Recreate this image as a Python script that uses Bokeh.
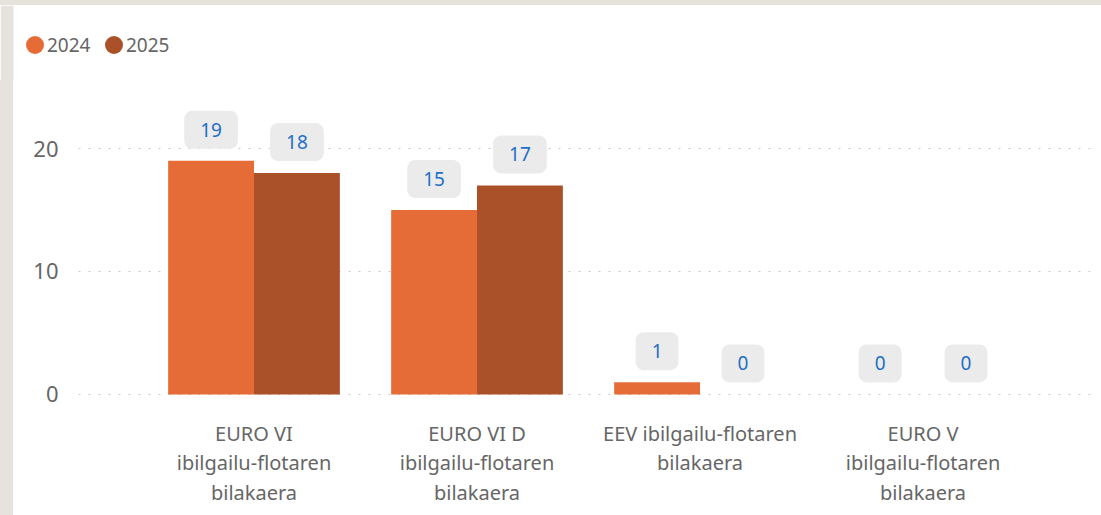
from bokeh.plotting import figure
from bokeh.models import (ColumnDataSource, Range1d, FixedTicker, Legend, LegendItem, Spacer,
                          BoxAnnotation)
from bokeh.layouts import row, column
from bokeh.core.properties import value
from bokeh.embed import file_html
from bokeh.resources import INLINE

# ---- data ----
categories = ["EURO VI\nibilgailu-flotaren\nbilakaera",
              "EURO VI D\nibilgailu-flotaren\nbilakaera",
              "EEV ibilgailu-flotaren\nbilakaera",
              "EURO V\nibilgailu-flotaren\nbilakaera"]
series_names = ["2024", "2025"]
values_2024 = [19, 15, 1, 0]
values_2025 = [18, 17, 0, 0]
y_ticks = [0, 10, 20]

colors = ["#E66C37", "#AB5129"]
FONT = "Noto Sans"
GRAY = "#666666"
BEIGE = "#E6E2DC"

# ---- main chart ----
p = figure(width=1088, height=435, output_backend="svg", toolbar_location=None,
           x_range=Range1d(-0.787, 3.751), y_range=Range1d(-0.33, 25.53),
           min_border_left=65, min_border_right=11, min_border_top=0, min_border_bottom=117)
p.outline_line_color = None
p.background_fill_color = "white"
p.border_fill_color = "white"

bw = 0.385
idx = list(range(len(categories)))
for k, (vals, col) in enumerate(zip([values_2024, values_2025], colors)):
    off = (k - 0.5) * bw
    src = ColumnDataSource(dict(x=[i + off for i in idx], top=vals,
                                lbl=[str(v) for v in vals]))
    p.vbar(x="x", top="top", bottom=0, width=bw, source=src, fill_color=col, line_color=None)
    p.text(x="x", y="top", text="lbl", source=src, text_align="center", text_baseline="bottom",
           y_offset=-12, text_color="#1F6FC6", text_font=value(FONT), text_font_size="19px",
           background_fill_color="#EBEBEB", border_radius=8, padding=(16, 12))

# axes
p.xaxis.ticker = FixedTicker(ticks=idx)
p.xaxis.major_label_overrides = {i: c for i, c in zip(idx, categories)}
p.xaxis.axis_line_color = None
p.xaxis.major_tick_line_color = None
p.xaxis.minor_tick_line_color = None
p.xaxis.major_tick_in = 0
p.xaxis.major_tick_out = 0
p.xaxis.major_label_text_font = FONT
p.xaxis.major_label_text_font_size = "20px"
p.xaxis.major_label_text_color = GRAY
p.xaxis.major_label_text_line_height = 1.1
p.xaxis.major_label_standoff = 21
p.xgrid.grid_line_color = None

p.yaxis.ticker = FixedTicker(ticks=y_ticks)
p.yaxis.axis_line_color = None
p.yaxis.major_tick_line_color = None
p.yaxis.minor_tick_line_color = None
p.yaxis.major_tick_in = 0
p.yaxis.major_tick_out = 0
p.yaxis.major_label_text_font = FONT
p.yaxis.major_label_text_font_size = "22px"
p.yaxis.major_label_text_color = GRAY
p.yaxis.major_label_standoff = 20
p.ygrid.ticker = FixedTicker(ticks=y_ticks)
p.ygrid.grid_line_color = "#C8C8C8"
p.ygrid.grid_line_dash = "2 8"
p.ygrid.grid_line_width = 1

# ---- legend strip (separate figure so the legend can sit left of the plot area) ----
lg = figure(width=1101, height=75, output_backend="svg", toolbar_location=None,
            x_axis_type=None, y_axis_type=None,
            min_border_left=0, min_border_right=0, min_border_top=0, min_border_bottom=0,
            x_range=Range1d(0, 1), y_range=Range1d(0, 1))
lg.outline_line_color = None
lg.grid.grid_line_color = None
lg.add_layout(BoxAnnotation(left=0, right=13, top=0, bottom=75, left_units="screen",
                            right_units="screen", top_units="screen", bottom_units="screen",
                            fill_color=BEIGE, fill_alpha=1, line_color=None))
# legend swatches: points placed outside the visible range so only the legend shows them
lg_renderers = [lg.scatter(x=[-10], y=[-10], marker="circle", fill_color=c, line_color=None)
                for c in colors]
common = dict(orientation="horizontal", glyph_height=45, spacing=0, padding=0, margin=0,
              border_line_alpha=0, background_fill_alpha=0, label_text_font=FONT,
              label_text_font_size="19px", label_text_color=GRAY)
for n, r, sw_x, lb_x in zip(series_names, lg_renderers, [12, 91], [47, 126]):
    # swatch (circle) part
    lg.add_layout(Legend(items=[LegendItem(label=" ", renderers=[r])], location=(sw_x, 13),
                         glyph_width=45, label_standoff=0, **common))
    # label part
    lg.add_layout(Legend(items=[LegendItem(label=n, renderers=[r])], location=(lb_x, 13),
                         glyph_width=0, label_standoff=0, **common))

# beige page edges (left and top strips)
top_strip = Spacer(width=1101, height=5, styles={"background-color": BEIGE})
left_bottom = Spacer(width=13, height=435, styles={"background-color": BEIGE})
page = column(top_strip, lg, row(left_bottom, p, spacing=0), spacing=0)

open("out.html", "w").write(file_html(page, INLINE))
